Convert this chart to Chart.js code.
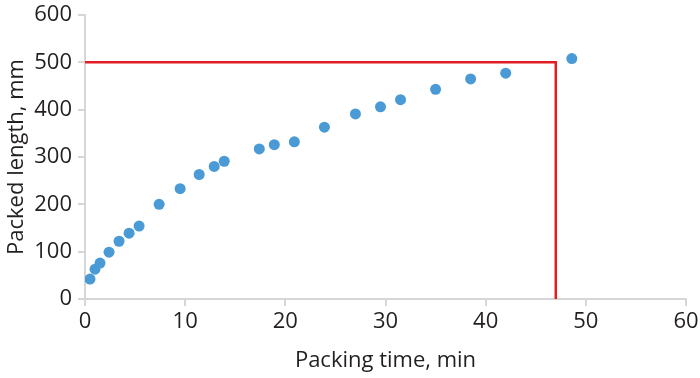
<!DOCTYPE html>
<html>
<head>
<meta charset="utf-8">
<script src="https://cdn.jsdelivr.net/npm/chart.js@4/dist/chart.umd.min.js"></script>
<style>
  html, body { margin: 0; padding: 0; background: #fff; }
  #wrap { width: 700px; height: 378px; }
</style>
</head>
<body>
<div id="wrap"><canvas id="chart"></canvas></div>
<script>
// packing time (min) and packed length (mm)
const packingTime = [0.5, 1.0, 1.5, 2.4, 3.4, 4.4, 5.4, 7.4, 9.5, 11.4, 12.9, 13.9,
                     17.4, 18.9, 20.9, 23.9, 27.0, 29.5, 31.5, 35.0, 38.5, 42.0, 48.6];
const packedLength = [42, 63, 76, 99, 122, 139, 154, 200, 233, 263, 280, 291,
                      317, 326, 332, 363, 391, 406, 421, 443, 465, 477, 508];

// red target line: 500 mm reached at 47 min
const targetX = [0, 47, 47];
const targetY = [500, 500, 0];

const xTicks = [0, 10, 20, 30, 40, 50, 60];
const yTicks = [0, 100, 200, 300, 400, 500, 600];

const font = "'Open Sans', sans-serif";
const axisGray = '#d6d6d6';

const points = packingTime.map((t, i) => ({ x: t, y: packedLength[i] }));
const target = targetX.map((t, i) => ({ x: t, y: targetY[i] }));

new Chart(document.getElementById('chart').getContext('2d'), {
    type: 'scatter',
    data: {
        datasets: [{
            label: 'Target',
            data: target,
            showLine: true,
            borderColor: '#e21d24',
            borderWidth: 2.5,
            pointRadius: 0,
            fill: false
        }, {
            label: 'Packed length',
            data: points,
            backgroundColor: '#4a9ad6',
            borderColor: '#4a9ad6',
            borderWidth: 0,
            pointRadius: 5.5
        }]
    },
    options: {
        responsive: true,
        maintainAspectRatio: false,
        animation: false,
        layout: { padding: { top: 15, right: 14, left: 0, bottom: 0 } },
        plugins: { legend: { display: false }, tooltip: { enabled: false } },
        scales: {
            x: {
                type: 'linear',
                min: 0,
                max: 60,
                afterBuildTicks: scale => { scale.ticks = xTicks.map(v => ({ value: v })); },
                afterFit: scale => {
                    scale.height = 79;
                    scale.paddingLeft = 0;
                    scale.paddingRight = 0;
                },
                grid: { drawOnChartArea: false, drawTicks: true, tickLength: 7, color: axisGray, lineWidth: 2 },
                border: { color: axisGray, width: 2 },
                ticks: { color: '#231f20', font: { family: font, size: 22 }, padding: 3, maxRotation: 0 },
                title: {
                    display: true,
                    text: 'Packing time, min',
                    color: '#231f20',
                    font: { family: font, size: 22 },
                    padding: { top: 0 }
                }
            },
            y: {
                min: 0,
                max: 600,
                afterBuildTicks: scale => { scale.ticks = yTicks.map(v => ({ value: v })); },
                afterFit: scale => {
                    scale.width = 85;
                    scale.paddingTop = 0;
                    scale.paddingBottom = 0;
                },
                grid: { drawOnChartArea: false, drawTicks: true, tickLength: 7, color: axisGray, lineWidth: 2 },
                border: { color: axisGray, width: 2 },
                ticks: { color: '#231f20', font: { family: font, size: 22 }, padding: 6 },
                title: {
                    display: true,
                    text: 'Packed length, mm',
                    color: '#231f20',
                    font: { family: font, size: 22 },
                    padding: { bottom: 0 }
                }
            }
        }
    }
});
</script>
</body>
</html>
